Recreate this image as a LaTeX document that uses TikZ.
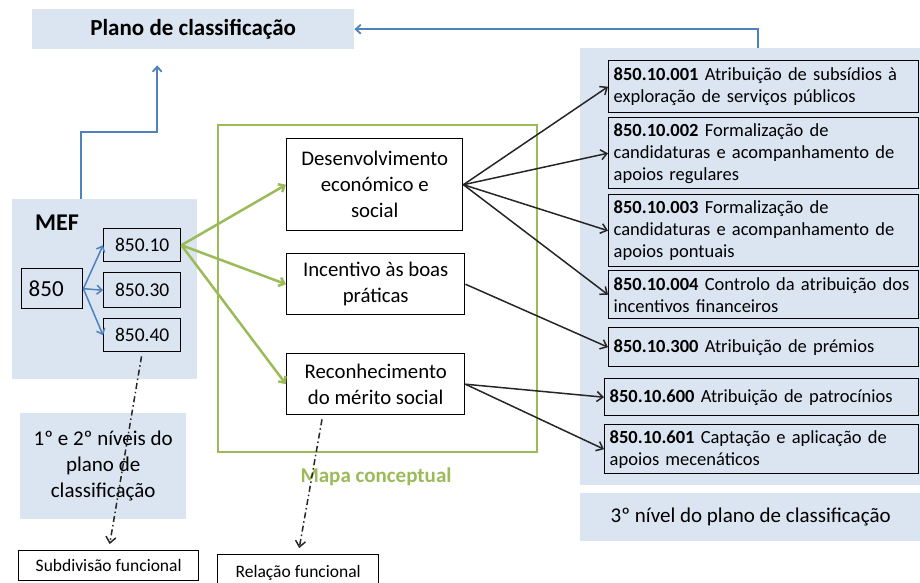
\documentclass[tikz,border=0pt]{standalone}
\usepackage{fontspec}
\setmainfont{Carlito}
\usetikzlibrary{arrows.meta,positioning}
\definecolor{panelblue}{HTML}{DBE5F1}
\definecolor{linkblue}{HTML}{4F81BD}
\definecolor{mapgreen}{HTML}{9BBB59}
\tikzset{
  panel/.style = {rectangle, fill=panelblue, draw=none, anchor=north west,
                  inner sep=0pt, align=center},
  box/.style   = {rectangle, draw=black, line width=1.4pt, anchor=north west,
                  align=center, inner sep=0pt},
  bar/.style   = {-{Straight Barb[length=5pt,width=9pt]}, draw=linkblue, line width=1.8pt},
  gar/.style   = {bar, draw=mapgreen, line width=2.5pt},
  kar/.style   = {-{Straight Barb[length=6pt,width=10pt]}, draw=black!85, line width=1.5pt},
  dar/.style   = {kar, dash pattern=on 6pt off 3pt on 1.5pt off 3pt,
                  shorten <=4pt, shorten >=6pt}
}

\begin{document}
\begin{tikzpicture}[
    x=1pt, y=-1pt,
    rbox/.style={box, align=left, inner xsep=5pt, text width=300pt,
                 font=\fontsize{18.5}{22}\selectfont},
    cbox/.style={box, font=\fontsize{20.8}{26}\selectfont},
    fbox/.style={box, font=\fontsize{17.5}{21}\selectfont}
  ]
  \useasboundingbox (0,0) rectangle (920,582);
  \clip (0,0) rectangle (920,582);

  % ===================== panels =====================
  \node[panel, minimum width=322, minimum height=40,
        font=\fontsize{23}{28}\selectfont\bfseries] (plano) at (32,9) {Plano de classificação};
  \node[panel, minimum width=185, minimum height=180] (mef) at (12,199) {};
  \node[font=\fontsize{24}{28}\selectfont\bfseries] (meflab) at (57,223) {MEF};
  \node[panel, minimum width=166, minimum height=106,
        font=\fontsize{21}{26}\selectfont] (levels) at (20,413) {1º e 2º níveis do\\plano de\\classificação};
  \node[panel, minimum width=341, minimum height=437] (third) at (580,48) {};
  \node[panel, minimum width=341, minimum height=48,
        font=\fontsize{21}{26}\selectfont] (thirdlab) at (580,493) {3º nível do plano de classificação};

  % ===================== conceptual map =====================
  \node[draw=mapgreen, line width=1.6pt, anchor=north west, inner sep=0pt,
        minimum width=319, minimum height=327] (mapa) at (217,124) {};
  \node[text=mapgreen, font=\fontsize{21}{26}\selectfont\bfseries] (mapalab) at (376,477) {Mapa conceptual};

  % ===================== 1st and 2nd levels =====================
  \node[box, minimum height=40, text width=47pt, inner xsep=7pt, align=left,
        font=\fontsize{23}{28}\selectfont] (n850) at (21,268) {850};
  \node[box, minimum width=77, minimum height=33, font=\fontsize{19.5}{24}\selectfont] (n85010) at (103,228) {850.10};
  \node[box, minimum width=77, minimum height=35, font=\fontsize{19.5}{24}\selectfont] (n85030) at (103,272) {850.30};
  \node[box, minimum width=77, minimum height=33, font=\fontsize{19.5}{24}\selectfont] (n85040) at (103,318) {850.40};

  \node[cbox, minimum width=176, minimum height=92] (desen) at (286,138) {Desenvolvimento\\económico e\\social};
  \node[cbox, minimum width=178, minimum height=61] (incent) at (286,253) {Incentivo às boas\\práticas};
  \node[cbox, minimum width=178, minimum height=61] (recon) at (286,353) {Reconhecimento\\do mérito social};

  % ===================== 3rd level =====================
  \node[rbox, minimum height=52] (c001) at (608,60)
    {\textbf{850.10.001} Atribuição de subsídios à\\exploração de serviços públicos};
  \node[rbox, minimum height=71] (c002) at (608,117)
    {\textbf{850.10.002} Formalização de\\candidaturas e acompanhamento de\\apoios regulares};
  \node[rbox, minimum height=72] (c003) at (608,194)
    {\textbf{850.10.003} Formalização de\\candidaturas e acompanhamento de\\apoios pontuais};
  \node[rbox, minimum height=48] (c004) at (608,270)
    {\textbf{850.10.004} Controlo da atribuição dos\\incentivos financeiros};
  \node[rbox, minimum height=39] (c300) at (608,327) {\textbf{850.10.300} Atribuição de prémios};
  \node[rbox, minimum height=37, text width=304pt] (c600) at (604,378) {\textbf{850.10.600} Atribuição de patrocínios};
  \node[rbox, minimum height=49, text width=304pt] (c601) at (604,424)
    {\textbf{850.10.601} Captação e aplicação de\\apoios mecenáticos};

  % ===================== functional boxes =====================
  \node[fbox, minimum width=180, minimum height=30] (subdiv) at (18,550) {Subdivisão funcional};
  \node[fbox, minimum width=161, minimum height=36] (relac) at (217,554) {Relação funcional};

  % ===================== connectors =====================
  \draw[bar] ([xshift=7pt]third.north) |- (plano.east);
  \draw[bar] ([xshift=-24pt]mef.north) -- ++(0,-67) -| ([xshift=-36pt,yshift=-16pt]plano.south);
  \foreach \b in {n85010,n85030,n85040}
    \draw[bar, line width=1.5pt] (n850.east) -- (\b.west);
  \foreach \c in {desen,incent,recon}
    \draw[gar] (n85010.east) -- (\c.west);
  \foreach \t in {c001,c002,c003,c004}
    \draw[kar] (desen.east) -- (\t.west);
  \draw[kar] (incent.east) -- (c300.west);
  \draw[kar] (recon.east) -- (c600.west);
  \draw[kar] (recon.east) -- (c601.west);
  \draw[dar] (n85040.south) -- (subdiv.north);
  \draw[dar] ([xshift=-53pt]recon.south) -- (relac.north);
\end{tikzpicture}
\end{document}
